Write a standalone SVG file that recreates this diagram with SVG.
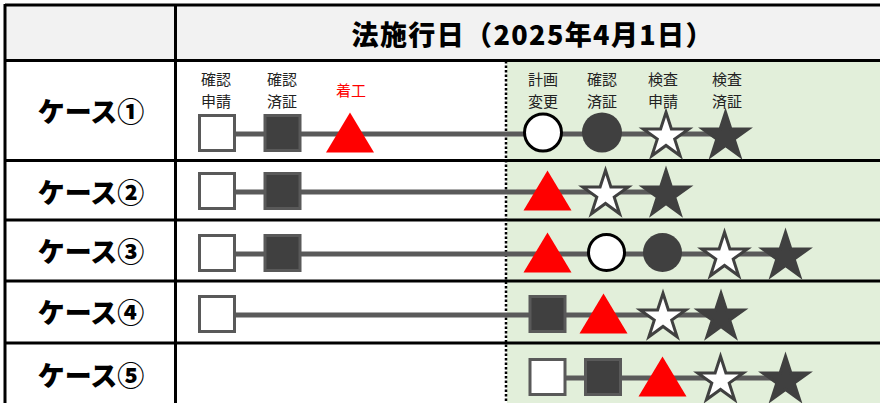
<svg xmlns="http://www.w3.org/2000/svg" width="880" height="403" viewBox="0 0 880 403">
<style>
.grid{stroke:#000;stroke-width:3;fill:none}
.case{font-family:"Noto Sans CJK JP","Noto Sans",sans-serif;font-weight:900;font-size:27px;fill:#000;text-anchor:middle}
.head{font-family:"Noto Sans CJK JP","Noto Sans",sans-serif;font-weight:900;font-size:27px;fill:#000;text-anchor:middle}
.lbl{font-family:"Noto Sans CJK JP","Noto Sans",sans-serif;font-size:15px;fill:#222;text-anchor:middle}
.red{fill:#ff0000}
.line{stroke:#5a5a5a;stroke-width:5;fill:none}
.sqw{fill:#fff;stroke:#595959;stroke-width:3}
.sqd{fill:#404040;stroke:#595959;stroke-width:3}
.tri{fill:#ff0000}
.cw{fill:#fff;stroke:#000;stroke-width:3}
.cd{fill:#404040}
.stw{fill:#fff;stroke:#404040;stroke-width:3;stroke-linejoin:miter}
.std{fill:#404040;stroke:#404040;stroke-width:3;stroke-linejoin:miter}
</style>
<defs>
<rect id="sq" x="-17.5" y="-18.5" width="35" height="35"/>
<path id="tr" d="M0,-21.5 L24,18.5 L-24,18.5 Z"/>
<path id="st" d="M0,-21.7 L5.39,-5.12 L22.83,-5.12 L8.72,5.13 L14.11,21.72 L0,11.47 L-14.11,21.72 L-8.72,5.13 L-22.83,-5.12 L-5.39,-5.12 Z"/>
</defs>

<g id="table">
<rect x="5" y="5" width="875" height="55" fill="#f2f2f2"/>
<rect x="507" y="60" width="373" height="343" fill="#e2efda"/>
<line x1="506" y1="61" x2="506" y2="403" stroke="#000" stroke-width="2.5" stroke-dasharray="2.5 2"/>
<line class="grid" x1="5" y1="5" x2="880" y2="5"/>
<line class="grid" x1="5" y1="60.5" x2="880" y2="60.5"/>
<line class="grid" x1="5" y1="160.5" x2="880" y2="160.5"/>
<line class="grid" x1="5" y1="220" x2="880" y2="220"/>
<line class="grid" x1="5" y1="281" x2="880" y2="281"/>
<line class="grid" x1="5" y1="343" x2="880" y2="343"/>
<line class="grid" x1="5" y1="4" x2="5" y2="403"/>
<line class="grid" x1="175.5" y1="4" x2="175.5" y2="403"/>
<text class="head" x="532" y="45" textLength="361" lengthAdjust="spacing">法施行日（2025年4月1日）</text>
</g>

<g id="case1">
<text class="case" x="91" y="122">ケース①</text>
<text class="lbl" x="216" y="85">確認</text><text class="lbl" x="216" y="107">申請</text>
<text class="lbl" x="282" y="85">確認</text><text class="lbl" x="282" y="107">済証</text>
<text class="lbl red" x="351" y="96">着工</text>
<text class="lbl" x="543" y="85">計画</text><text class="lbl" x="543" y="107">変更</text>
<text class="lbl" x="602" y="85">確認</text><text class="lbl" x="602" y="107">済証</text>
<text class="lbl" x="663" y="85">検査</text><text class="lbl" x="663" y="107">申請</text>
<text class="lbl" x="727" y="85">検査</text><text class="lbl" x="727" y="107">済証</text>
<line class="line" x1="217" y1="134" x2="725" y2="134"/>
<use href="#sq" class="sqw" x="217" y="134"/>
<use href="#sq" class="sqd" x="282.5" y="134"/>
<use href="#tr" class="tri" x="350" y="134"/>
<circle class="cw" cx="543" cy="132.5" r="18.5"/>
<circle class="cd" cx="602" cy="132.5" r="20"/>
<use href="#st" class="stw" x="666" y="134"/>
<use href="#st" class="std" x="725.5" y="134"/>
</g>

<g id="case2">
<text class="case" x="91" y="203">ケース②</text>
<line class="line" x1="217" y1="192" x2="666" y2="192"/>
<use href="#sq" class="sqw" x="217" y="192"/>
<use href="#sq" class="sqd" x="282.5" y="192"/>
<use href="#tr" class="tri" x="547.5" y="192"/>
<use href="#st" class="stw" x="605.5" y="192"/>
<use href="#st" class="std" x="666" y="192"/>
</g>

<g id="case3">
<text class="case" x="91" y="262">ケース③</text>
<line class="line" x1="217" y1="254" x2="785" y2="254"/>
<use href="#sq" class="sqw" x="217" y="254"/>
<use href="#sq" class="sqd" x="282.5" y="254"/>
<use href="#tr" class="tri" x="547.5" y="254"/>
<circle class="cw" cx="606.5" cy="252.5" r="18"/>
<circle class="cd" cx="662.5" cy="252.5" r="19.5"/>
<use href="#st" class="stw" x="724.5" y="254"/>
<use href="#st" class="std" x="785.5" y="254"/>
</g>

<g id="case4">
<text class="case" x="91" y="323">ケース④</text>
<line class="line" x1="217" y1="315" x2="721" y2="315"/>
<use href="#sq" class="sqw" x="217" y="315"/>
<use href="#sq" class="sqd" x="547.5" y="315"/>
<use href="#tr" class="tri" x="603.5" y="315"/>
<use href="#st" class="stw" x="663" y="315"/>
<use href="#st" class="std" x="721" y="315"/>
</g>

<g id="case5">
<text class="case" x="91" y="386">ケース⑤</text>
<line class="line" x1="547.5" y1="378" x2="785" y2="378"/>
<use href="#sq" class="sqw" x="547.5" y="378"/>
<use href="#sq" class="sqd" x="603" y="378"/>
<use href="#tr" class="tri" x="662.5" y="378"/>
<use href="#st" class="stw" x="720.5" y="378"/>
<use href="#st" class="std" x="785.5" y="378"/>
</g>
</svg>
